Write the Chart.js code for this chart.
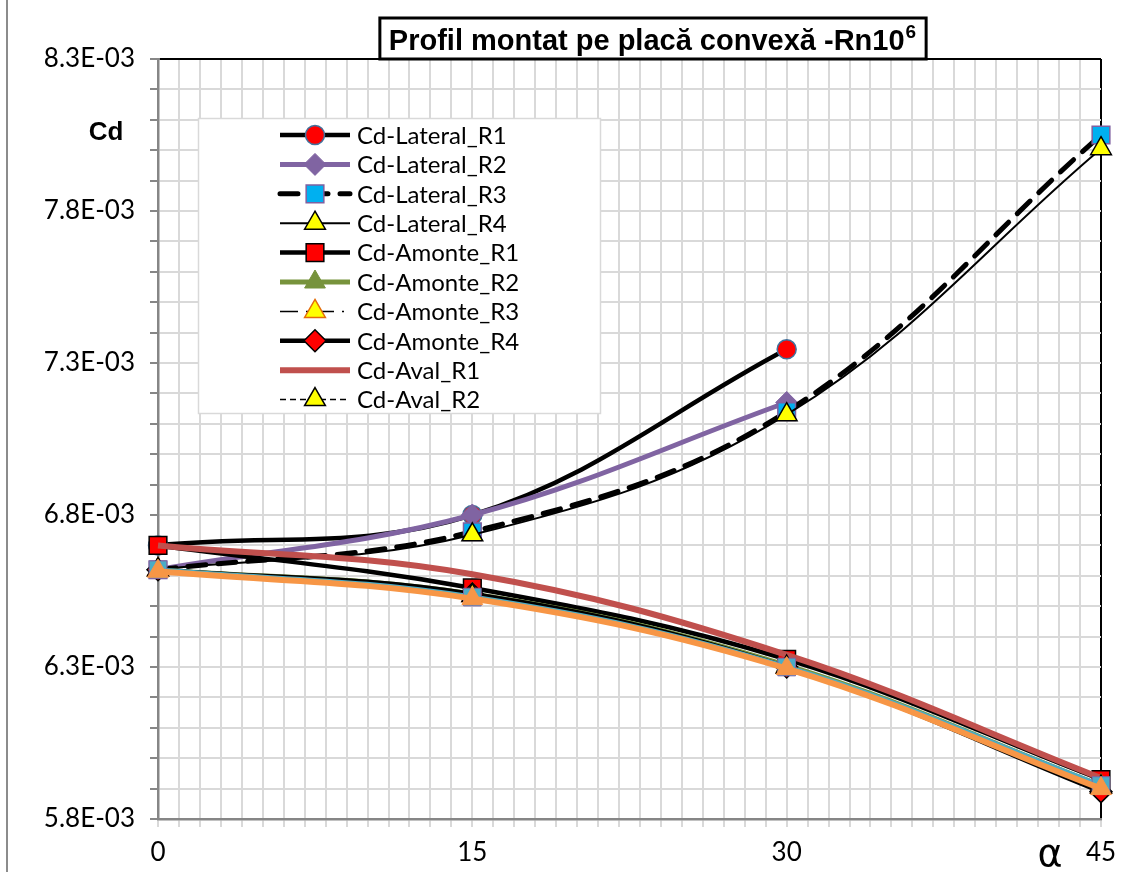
<!DOCTYPE html>
<html><head><meta charset="utf-8">
<script src="https://cdn.jsdelivr.net/npm/chart.js@4/dist/chart.umd.min.js"></script>
<style>html,body{margin:0;padding:0;background:#fff;}canvas{display:block;}</style>
</head><body>
<canvas id="c" width="1138" height="872"></canvas>
<script>
// ---- data (angle alpha in degrees, Cd values) ----
const alphaDeg = [0, 15, 30, 45];
const lateralR1 = [0.00670, 0.00680, 0.007345];
const lateralR2 = [0.00662, 0.00680, 0.00717];
const lateralR3 = [0.00662, 0.006745, 0.00714, 0.00805];
const lateralR4 = [0.00662, 0.006735, 0.00713, 0.008005];
const amonteR1 = [0.00670, 0.00656, 0.006325, 0.00593];
const amonteR2 = [0.00662, 0.00654, 0.006305, 0.00591];
const amonteR3 = [0.00662, 0.006535, 0.00630, 0.005905];
const amonteR4 = [0.00662, 0.00654, 0.00630, 0.00589];
const avalR1 = [0.00670, 0.006605, 0.00634, 0.005935];
const avalR2 = [0.00662, 0.006535, 0.00630, 0.005905];
const avalR3 = [0.00662, 0.00653, 0.00630, 0.00591];
const avalR4 = [0.006615, 0.006525, 0.006295, 0.00590];
const seriesNames = ['Cd-Lateral_R1','Cd-Lateral_R2','Cd-Lateral_R3','Cd-Lateral_R4',
  'Cd-Amonte_R1','Cd-Amonte_R2','Cd-Amonte_R3','Cd-Amonte_R4','Cd-Aval_R1','Cd-Aval_R2','Cd-Aval_R3','Cd-Aval_R4'];
const legendCount = 10;
const xTickLabels = [0, 15, 30, 45];
const yTickLabels = ['5.8E-03','6.3E-03','6.8E-03','7.3E-03','7.8E-03','8.3E-03'];
const titleText = 'Profil montat pe placă convexă -Rn10';
const titleSup = '6';
const yAxisTitle = 'Cd';
const xAxisTitle = 'α';

const pts = v => v.map((y, i) => ({x: alphaDeg[i], y: y}));

const styles = [
  {c:'#000000', w:4.5, ps:'circle', r:9.5, bg:'#ff0000', bc:'#41719c', bw:1.5},
  {c:'#8064a2', w:5, ps:'rectRot', r:11, bg:'#8064a2', bc:'#8064a2', bw:1},
  {c:'#000000', w:5, dash:[18,12], cap:'round', ps:'rect', r:12.5, bg:'#00b0f0', bc:'#7f60a0', bw:1.5},
  {c:'#000000', w:2, ps:'triangle', r:12, bg:'#ffff00', bc:'#000000', bw:1.5},
  {c:'#000000', w:4.5, ps:'rect', r:12.5, bg:'#ff0000', bc:'#000000', bw:1.5},
  {c:'#77933c', w:5, ps:'triangle', r:12, bg:'#77933c', bc:'#77933c', bw:1},
  {c:'#000000', w:1.5, dash:[18,8,2,8], ps:'triangle', r:12, bg:'#ffff00', bc:'#e46c0a', bw:1.5},
  {c:'#000000', w:4.5, ps:'rectRot', r:11, bg:'#ff0000', bc:'#000000', bw:1.5},
  {c:'#c0504d', w:6, ps:'circle', r:0, bg:'#c0504d', bc:'#c0504d', bw:0},
  {c:'#000000', w:1.5, dash:[6,4], ps:'triangle', r:12, bg:'#ffff00', bc:'#000000', bw:1.5},
  {c:'#4bacc6', w:5, ps:'rect', r:12.5, bg:'#4bacc6', bc:'#8064a2', bw:1},
  {c:'#f79646', w:6, ps:'triangle', r:12, bg:'#f79646', bc:'#f79646', bw:1}
];
const allValues = [lateralR1,lateralR2,lateralR3,lateralR4,amonteR1,amonteR2,amonteR3,amonteR4,avalR1,avalR2,avalR3,avalR4];
const N = allValues.length;
const datasets = allValues.map((vals, i) => {
  const s = styles[i];
  return {
    label: seriesNames[i], data: pts(vals),
    borderColor: s.c, borderWidth: s.w, borderDash: s.dash || [], borderCapStyle: s.cap || 'butt',
    pointStyle: s.ps, pointRadius: s.r, pointHoverRadius: s.r, pointBackgroundColor: s.bg,
    pointBorderColor: s.bc, pointBorderWidth: s.bw, tension: 0.38, fill: false, clip: false,
    order: N - i
  };
});

function drawMarker(ctx, style, r, x, y, fill, stroke, bw){
  if (!r) return;
  ctx.save(); ctx.setLineDash([]); ctx.fillStyle = fill; ctx.strokeStyle = stroke; ctx.lineWidth = bw;
  ctx.beginPath();
  if (style === 'circle') ctx.arc(x, y, r, 0, Math.PI*2);
  else if (style === 'rect') { const s = r*Math.SQRT1_2; ctx.rect(x-s, y-s, 2*s, 2*s); }
  else if (style === 'rectRot') { ctx.moveTo(x-r,y); ctx.lineTo(x,y-r); ctx.lineTo(x+r,y); ctx.lineTo(x,y+r); ctx.closePath(); }
  else if (style === 'triangle') {
    for (let k=0;k<3;k++){ const a = k*2*Math.PI/3; const px = x+Math.sin(a)*r, py = y-Math.cos(a)*r; if(k===0) ctx.moveTo(px,py); else ctx.lineTo(px,py);} ctx.closePath();
  }
  ctx.fill(); if (bw>0) ctx.stroke(); ctx.restore();
}

const decor = {
  id: 'decor',
  afterDraw(chart){
    const ctx = chart.ctx;
    ctx.save();
    // outer frame left edge
    ctx.strokeStyle = '#8c8c8c'; ctx.lineWidth = 2;
    ctx.beginPath(); ctx.moveTo(7, 0); ctx.lineTo(7, 872); ctx.stroke();
    // legend box
    ctx.fillStyle = '#ffffff'; ctx.fillRect(198, 118, 402, 295);
    ctx.strokeStyle = '#d9d9d9'; ctx.lineWidth = 1.5; ctx.strokeRect(198.5, 118.5, 402, 295);
    for (let i = 0; i < legendCount; i++) {
      const s = styles[i];
      const y = 135 + i*29.4;
      ctx.save();
      ctx.strokeStyle = s.c; ctx.lineWidth = s.w; ctx.setLineDash(s.dash || []); ctx.lineCap = s.cap || 'butt';
      ctx.beginPath(); ctx.moveTo(280, y); ctx.lineTo(350, y); ctx.stroke();
      ctx.restore();
      drawMarker(ctx, s.ps, s.r, 315, y, s.bg, s.bc, s.bw);
      ctx.fillStyle = '#000'; ctx.font = '24px Lato'; ctx.textBaseline = 'middle'; ctx.textAlign = 'left';
      ctx.fillText(seriesNames[i], 357, y + 1);
    }
    // title box
    ctx.font = 'bold 29px "Liberation Sans"';
    const tw = ctx.measureText(titleText).width;
    ctx.font = 'bold 19px "Liberation Sans"';
    const sw = ctx.measureText(titleSup).width;
    const total = tw + sw + 2;
    const cx = 653;
    const bx = cx - total/2 - 9, bw = total + 18;
    ctx.fillStyle = '#fff'; ctx.fillRect(bx, 18, bw, 41);
    ctx.strokeStyle = '#000'; ctx.lineWidth = 3; ctx.strokeRect(bx, 18, bw, 41);
    ctx.fillStyle = '#000'; ctx.textAlign = 'left'; ctx.textBaseline = 'alphabetic';
    ctx.font = 'bold 29px "Liberation Sans"';
    ctx.fillText(titleText, cx - total/2, 50);
    ctx.font = 'bold 19px "Liberation Sans"';
    ctx.fillText(titleSup, cx - total/2 + tw + 1, 38);
    // axis titles
    ctx.font = 'bold 26px "Liberation Sans"'; ctx.textAlign = 'center';
    ctx.fillText(yAxisTitle, 106, 140);
    ctx.font = '38px "DejaVu Sans"';
    ctx.fillText(xAxisTitle, 1050, 866);
    ctx.restore();
  }
};

new Chart(document.getElementById('c'), {
  type: 'line',
  data: { datasets: datasets },
  plugins: [decor],
  options: {
    responsive: false, animation: false, devicePixelRatio: 1,
    layout: { padding: { left: 0, top: 59, right: 37, bottom: 0 } },
    plugins: { legend: { display: false }, tooltip: { enabled: false }, title: { display: false } },
    scales: {
      x: {
        type: 'linear', min: 0, max: 45,
        afterFit(s){ s.height = 53; },
        ticks: { stepSize: 1, autoSkip: false, maxRotation: 0, color: '#000', padding: 10,
          font: { family: 'Lato', size: 26 },
          callback: v => xTickLabels.includes(v) ? String(v) : '' },
        grid: { color: c => (c.tick && c.tick.value === 45) ? '#000' : '#d9d9d9', lineWidth: 2,
          tickLength: 8, tickColor: '#d9d9d9' },
        border: { color: '#868686', width: 2.5 }
      },
      y: {
        type: 'linear', min: 0.0058, max: 0.0083,
        afterFit(s){ s.width = 158; },
        ticks: { stepSize: 0.0001, autoSkip: false, color: '#000', padding: 15,
          font: { family: 'Lato', size: 26 },
          callback: v => { const lab = (v*1000).toFixed(1) + 'E-03'; return yTickLabels.includes(lab) ? lab : ''; } },
        grid: { color: c => (c.tick && Math.abs(c.tick.value - 0.0083) < 1e-8) ? '#000' : '#d9d9d9', lineWidth: 2,
          tickLength: 8, tickColor: '#868686' },
        border: { color: '#868686', width: 2.5 }
      }
    }
  }
});
</script>
</body></html>
